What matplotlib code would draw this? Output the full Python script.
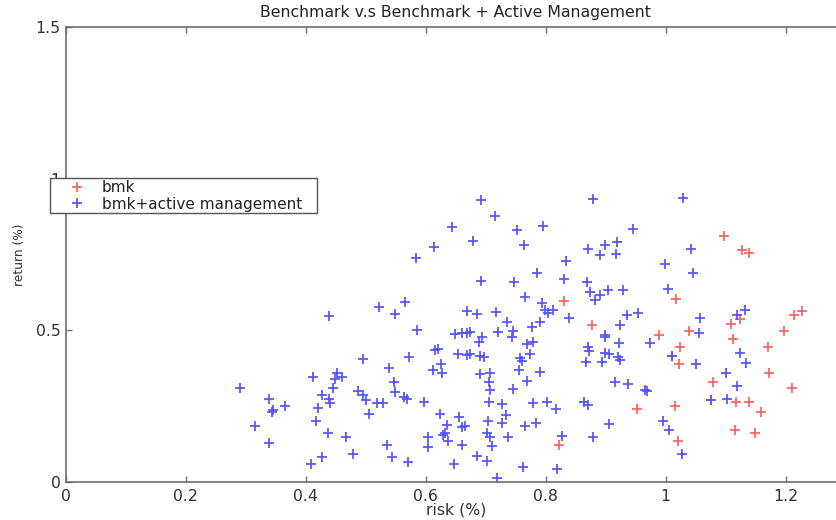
import matplotlib
matplotlib.use("Agg")
import matplotlib.pyplot as plt
from matplotlib.patches import Rectangle

# ---- data (risk %, return %) ----
bmk_risk = [0.8305, 0.8767, 1.0967, 1.1277, 1.1388, 1.0167, 1.124, 1.109, 1.0388, 1.2143,
            1.2267, 1.1977, 0.9888, 1.024, 1.010, 1.0227, 1.1117, 1.171, 1.1727, 1.0783,
            1.210, 1.0755, 1.117, 1.1388, 1.1588, 1.0155, 1.1155, 1.1488, 1.020, 0.9517,
            0.8227]
bmk_return = [0.597, 0.516, 0.811, 0.763, 0.756, 0.602, 0.536, 0.519, 0.498, 0.551,
              0.563, 0.497, 0.484, 0.443, 0.414, 0.387, 0.470, 0.443, 0.359, 0.328,
              0.310, 0.269, 0.264, 0.264, 0.231, 0.250, 0.170, 0.162, 0.134, 0.239,
              0.121]

active_risk = [0.2905, 0.339, 0.343, 0.346, 0.3155, 0.339, 0.3655,
               0.644, 0.614, 0.584, 0.522, 0.565, 0.549, 0.438, 0.585, 0.669, 0.649, 0.660, 0.668,
               0.692, 0.878, 0.7155, 0.752, 0.796, 0.945, 0.679, 0.764, 0.871, 0.899, 0.918,
               0.8905, 0.9167, 0.833, 0.7855, 0.6917, 0.747, 0.8305, 0.868, 0.765, 0.793,
               0.874, 0.8905, 0.903, 0.928, 0.882, 0.685, 0.718, 0.799, 0.804, 0.8127,
               0.839, 0.735, 0.7905, 0.777, 0.721, 0.746, 0.674, 0.935, 0.953, 0.924, 0.899,
               1.028, 1.042, 0.998, 1.046, 1.004, 1.132, 1.118, 1.057, 1.056,
               0.496, 0.5727, 0.6155, 0.621, 0.654, 0.668, 0.4127, 0.4527, 0.460, 0.4488,
               0.446, 0.4277, 0.439, 0.4405, 0.420, 0.4167, 0.4877, 0.495, 0.5005, 0.518,
               0.529, 0.5055, 0.539, 0.5477, 0.549, 0.5638, 0.569, 0.5977, 0.6127, 0.625,
               0.6267, 0.6238, 0.6555, 0.635, 0.629, 0.632, 0.6377, 0.660, 0.6655, 0.660,
               0.6043, 0.6043, 0.4377, 0.467, 0.535, 0.5443, 0.571, 0.479, 0.4267, 0.4088,
               0.647,
               0.694, 0.6888, 0.744, 0.768, 0.779, 0.674, 0.6905, 0.6977, 0.774, 0.757,
               0.760, 0.899, 0.922, 0.974, 0.871, 0.872, 0.899, 0.9055, 0.920, 0.924,
               0.8667, 0.8933, 0.6905, 0.707, 0.7555, 0.7905, 0.7055, 0.707, 0.768, 0.746,
               0.9155, 0.9377, 0.9655, 0.968, 0.7055, 0.7277, 0.779, 0.8017, 0.8167, 0.864,
               0.870, 0.733, 0.704, 0.7267, 0.7655, 0.7838, 0.9055, 0.7017, 0.707, 0.711,
               0.7377, 0.8267, 0.8793, 0.685, 0.7017, 0.7627, 0.8193, 0.7183,
               1.010, 1.0505, 1.124, 1.134, 1.1005, 1.119, 1.0755, 1.1027, 0.995, 1.006,
               1.0267]
active_return = [0.308, 0.272, 0.231, 0.236, 0.184, 0.129, 0.250,
                 0.839, 0.773, 0.738, 0.577, 0.593, 0.553, 0.546, 0.500, 0.564, 0.486, 0.491, 0.489,
                 0.928, 0.932, 0.876, 0.830, 0.844, 0.835, 0.795, 0.780, 0.766, 0.780, 0.791,
                 0.747, 0.751, 0.729, 0.687, 0.663, 0.658, 0.668, 0.659, 0.609, 0.591,
                 0.625, 0.616, 0.631, 0.633, 0.598, 0.553, 0.559, 0.566, 0.555, 0.566,
                 0.541, 0.526, 0.526, 0.509, 0.495, 0.497, 0.495, 0.550, 0.555, 0.517, 0.484,
                 0.936, 0.766, 0.719, 0.687, 0.636, 0.565, 0.550, 0.539, 0.489,
                 0.405, 0.410, 0.434, 0.438, 0.420, 0.418, 0.344, 0.359, 0.346, 0.338,
                 0.308, 0.286, 0.272, 0.260, 0.244, 0.201, 0.299, 0.286, 0.269, 0.260,
                 0.260, 0.223, 0.374, 0.330, 0.297, 0.280, 0.272, 0.264, 0.368, 0.387,
                 0.359, 0.223, 0.214, 0.187, 0.154, 0.160, 0.134, 0.181, 0.184, 0.121,
                 0.148, 0.115, 0.160, 0.148, 0.121, 0.082, 0.066, 0.090, 0.080, 0.057,
                 0.058,
                 0.476, 0.462, 0.476, 0.454, 0.462, 0.421, 0.414, 0.412, 0.421, 0.407,
                 0.399, 0.478, 0.456, 0.458, 0.445, 0.432, 0.423, 0.421, 0.410, 0.401,
                 0.394, 0.394, 0.354, 0.359, 0.368, 0.361, 0.330, 0.302, 0.332, 0.305,
                 0.330, 0.322, 0.302, 0.300, 0.262, 0.256, 0.260, 0.264, 0.240, 0.262,
                 0.253, 0.220, 0.201, 0.193, 0.184, 0.193, 0.190, 0.160, 0.146, 0.119,
                 0.146, 0.151, 0.148, 0.086, 0.068, 0.048, 0.041, 0.013,
                 0.414, 0.388, 0.425, 0.390, 0.359, 0.316, 0.269, 0.272, 0.201, 0.170,
                 0.091]

x_ticks = [0, 0.2, 0.4, 0.6, 0.8, 1, 1.2]
x_tick_labels = ["0", "0.2", "0.4", "0.6", "0.8", "1", "1.2"]
y_ticks = [0, 0.5, 1, 1.5]
y_tick_labels = ["0", "0.5", "1", "1.5"]

W, H = 837, 520
fig = plt.figure(figsize=(W / 100, H / 100), dpi=100)

# axes: left spine at x=65.7px, bottom at y=481.7px, top at y=27px; xlim 0..1.3 (600 px/unit)
left = 65.7 / W
bottom = (H - 481.7) / H
height = (481.7 - 27) / H
width = 1.3 * 600 / W
ax = fig.add_axes([left, bottom, width, height])

blue = (0.33, 0.33, 1.0)
red = (1.0, 0.38, 0.38)
h_bmk, = ax.plot(bmk_risk, bmk_return, linestyle="none", marker="+", color=red,
                 markersize=7.5, markeredgewidth=1.25, label="bmk", clip_on=False)
h_act, = ax.plot(active_risk, active_return, linestyle="none", marker="+", color=blue,
                 markersize=7.5, markeredgewidth=1.25, label="bmk+active management",
                 clip_on=False)

ax.set_xlim(0, 1.3)
ax.set_ylim(0, 1.5)
ax.set_xticks(x_ticks)
ax.set_xticklabels(x_tick_labels)
ax.set_yticks(y_ticks)
ax.set_yticklabels(y_tick_labels)

spine_col = "#6e6e6e"
for s in ax.spines.values():
    s.set_color(spine_col)
    s.set_linewidth(1.2)
ax.tick_params(direction="in", length=4, width=1, color=spine_col,
               top=True, right=True, labelsize=11.3, labelcolor="#333333")
ax.tick_params(axis="x", pad=5)
ax.tick_params(axis="y", pad=3.5)

ax.set_xlabel("risk (%)", fontsize=11.3, color="#333333", va="center")
ax.xaxis.set_label_coords(0.5, -(510 - 481.7) / (481.7 - 27))
ax.set_ylabel("return (%)", fontsize=8.8, color="#333333", va="center")
ax.yaxis.set_label_coords(-(65.7 - 20) / 780, 0.5)

fig.text(455 / W, 1 - 13 / H, "Benchmark v.s Benchmark + Active Management",
         ha="center", va="center", fontsize=11.3, color="#222222")

# legend: frame drawn as a rectangle matching the reference box
frame = Rectangle((50 / W, 1 - 213.3 / H), (317.3 - 50) / W, (213.3 - 178.3) / H,
                  transform=fig.transFigure, facecolor="white", edgecolor="#555555",
                  linewidth=1.0, zorder=10)
fig.add_artist(frame)
fs = 11.0
fpx = fs * 100 / 72
leg = fig.legend(handles=[h_bmk, h_act], loc="upper left",
                 bbox_to_anchor=(54 / W, 1 - 180.5 / H),
                 borderaxespad=0, frameon=False,
                 fontsize=fs, handlelength=(76.7 - 54) * 2 / fpx,
                 handletextpad=(101.7 - 54 - (76.7 - 54) * 2) / fpx,
                 labelspacing=0.07, borderpad=0.0)
leg.set_zorder(11)
for t in leg.get_texts():
    t.set_color("#222222")

fig.savefig("out.png", dpi=100)
